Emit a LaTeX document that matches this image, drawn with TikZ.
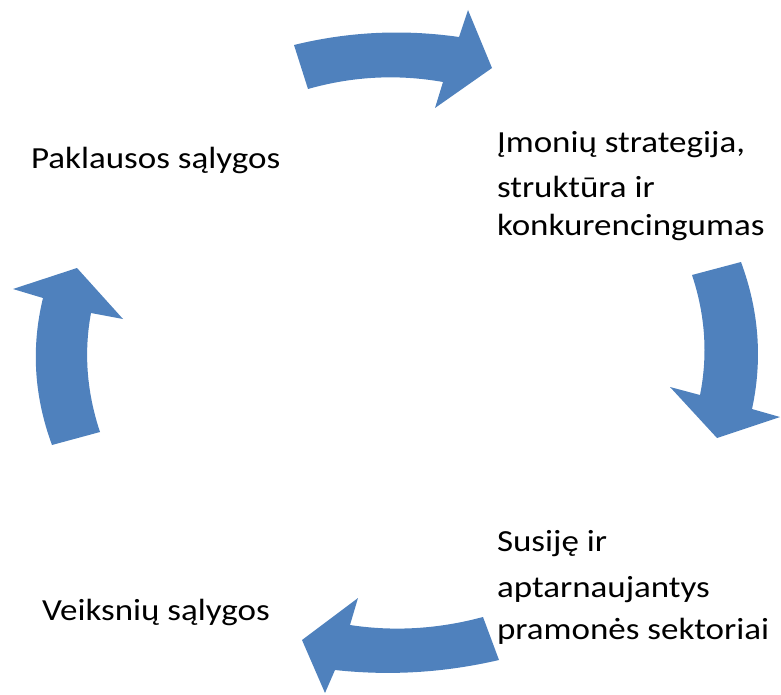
\documentclass[tikz,border=0pt]{standalone}
\usepackage{fontspec}
\setmainfont{Carlito}
\definecolor{cycleblue}{HTML}{4F81BD}
\tikzset{
  cyclearrow/.style={fill=cycleblue, draw=none},
  label/.style={anchor=base west, inner sep=0pt, outer sep=0pt,
    font=\fontsize{35}{40}\selectfont, text=black}
}
\newcommand{\lbl}[1]{\scalebox{1}[0.876]{#1}}
\begin{document}
\begin{tikzpicture}[x=1pt, y=-1pt]
  \useasboundingbox (0,0) rectangle (781,695);

  % top arrow, pointing right
  \fill[cyclearrow] (294,45) .. controls (348,31.7) and (403,29) .. (459,37)
    -- (468,10) -- (492,68) -- (435,108) -- (443,82)
    .. controls (397.7,74) and (352.7,76.3) .. (308,89) -- cycle;

  % right arrow, pointing down
  \fill[cyclearrow] (692,275) -- (741,262)
    .. controls (759,310.7) and (762.7,359.7) .. (752,409)
    -- (780,417) -- (717,438) -- (670,387) -- (700,395)
    .. controls (708,355) and (705.3,315) .. (692,275) -- cycle;

  % bottom arrow, pointing left
  \fill[cyclearrow] (483,617) -- (499,660)
    .. controls (444.3,672.7) and (389.7,676) .. (335,670)
    -- (325,693) -- (302,640) -- (358,598) -- (350,625)
    .. controls (394,631.7) and (438.3,629) .. (483,617) -- cycle;

  % left arrow, pointing up
  \fill[cyclearrow] (52,445) -- (100,432)
    .. controls (86.7,392) and (83.7,352.3) .. (91,313)
    -- (123,319) -- (77,268) -- (13,289) -- (43,298)
    .. controls (31,347.3) and (34,396.3) .. (52,445) -- cycle;

  % labels
  \node[label] (demand) at (31,169) {\lbl{Paklausos sąlygos}};
  \node[label] (factor) at (42,620) {\lbl{Veiksnių sąlygos}};
  \node[label] (firm1) at (497,153) {\lbl{Įmonių strategija,}};
  \node[label] (firm2) at (497,197) {\lbl{struktūra ir}};
  \node[label] (firm3) at (497,235) {\lbl{konkurencingumas}};
  \node[label] (rel1) at (497,551) {\lbl{Susiję ir}};
  \node[label] (rel2) at (497,597) {\lbl{aptarnaujantys}};
  \node[label] (rel3) at (497,639) {\lbl{pramonės sektoriai}};
\end{tikzpicture}
\end{document}
